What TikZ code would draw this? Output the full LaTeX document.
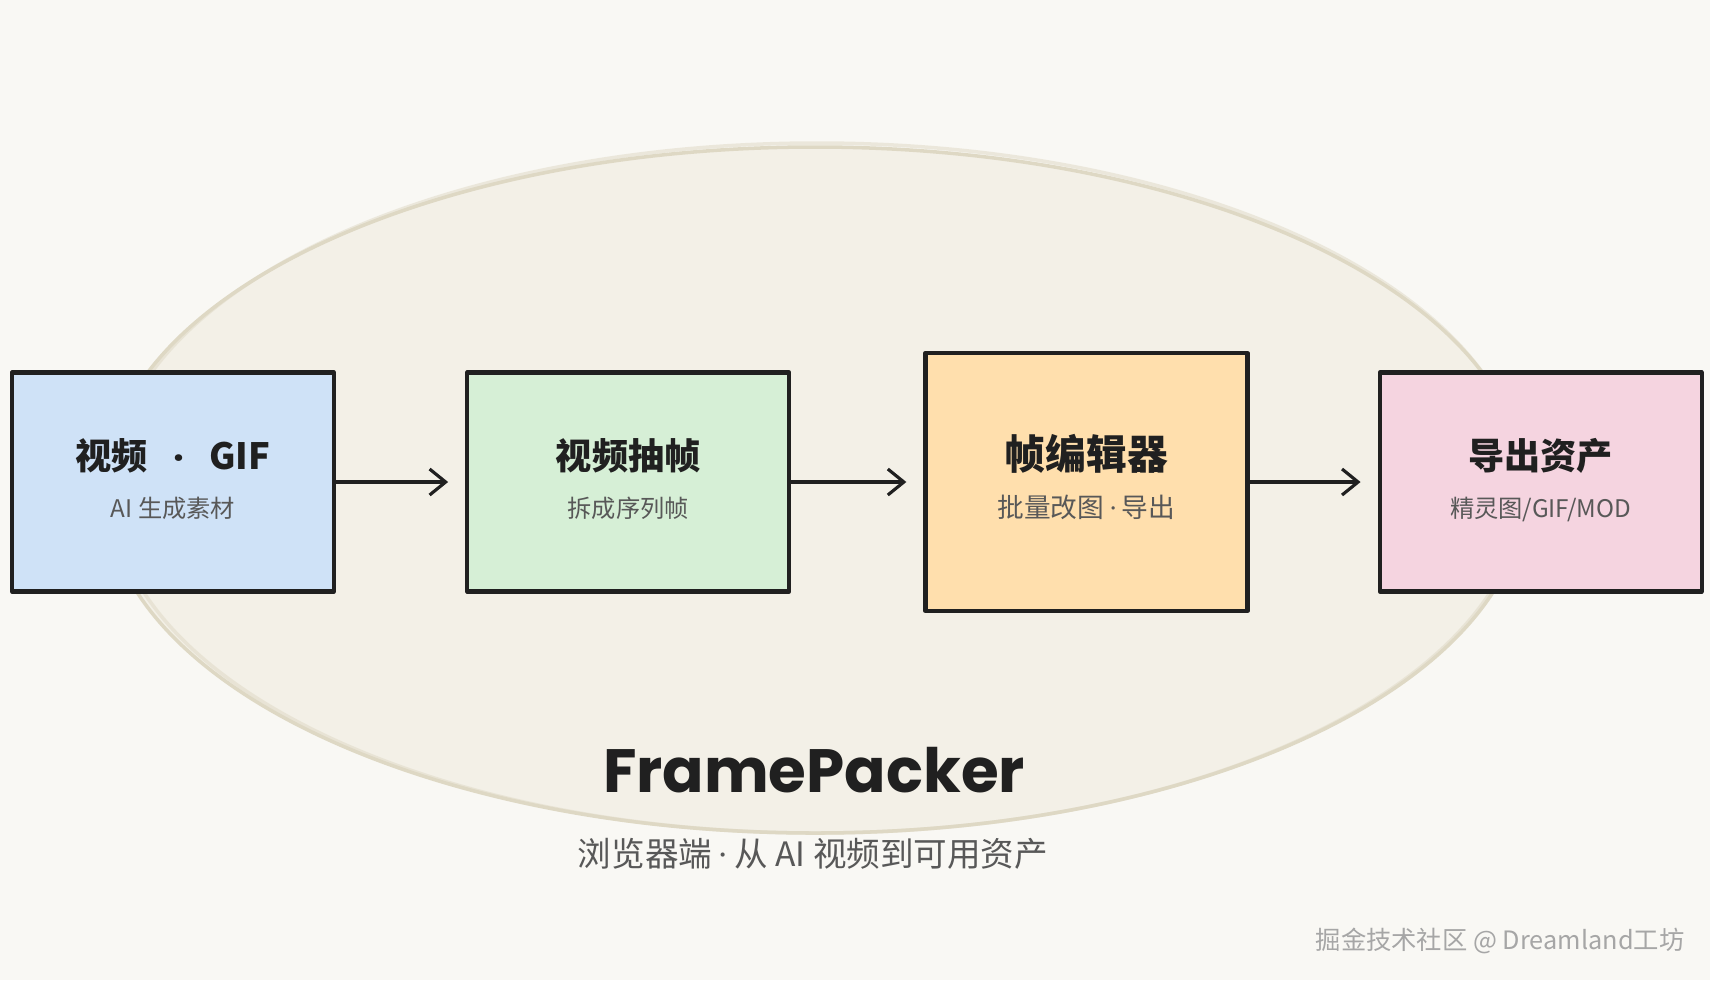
\documentclass[tikz,border=0pt]{standalone}
\usepackage{fontspec}
\setmainfont{Poppins}
\newfontfamily\cjk{Noto Sans CJK SC}
\usetikzlibrary{arrows.meta,positioning}
\definecolor{paper}{RGB}{249,248,244}
\definecolor{blobfill}{RGB}{243,240,231}
\definecolor{blobline}{RGB}{222,216,196}
\definecolor{inkdark}{RGB}{32,32,32}
\definecolor{inksoft}{RGB}{88,88,88}
\definecolor{srcfill}{RGB}{207,226,247}
\definecolor{cutfill}{RGB}{214,239,214}
\definecolor{editfill}{RGB}{255,223,173}
\definecolor{outfill}{RGB}{245,212,224}
\tikzset{
  stagebox/.style={draw=inkdark, line width=1.2pt, line join=round,
    minimum width=3.22cm, minimum height=2.19cm, inner sep=0pt,
    align=center, text=inkdark, font=\cjk\bfseries\fontsize{10.3}{12}\selectfont},
  flowln/.style={-{Straight Barb[length=1.6mm,width=2.6mm]}, line width=0.9pt,
    inkdark, shorten >=1.7mm},
  blobln/.style={blobline, line width=1pt},
}
\newcommand{\stagesub}[2][6.9]{{\mdseries\fontsize{#1}{8}\selectfont\color{inksoft}#2\rule[-2.4pt]{0pt}{0pt}}}
\newcommand{\mdot}{{\normalfont\mdseries ·}}

\begin{document}
\begin{tikzpicture}
    % paper
    \fill[paper] (0,0) rectangle (17.1,9.8);
    % backdrop blob
    \draw[blobln, fill=blobfill] (8.15,4.90) ellipse [x radius=7.10, y radius=3.43];
    \draw[blobln, opacity=0.5] (8.17,4.92) ellipse [x radius=7.06, y radius=3.45];
    % pipeline stages
    \node[stagebox, fill=srcfill] (src) at (1.73,4.98)
      {视频\hspace{0.7em}{\normalfont\bfseries ·}\hspace{0.7em}GIF\\[1.6pt]\stagesub{AI 生成素材}};
    \node[stagebox, fill=cutfill, right=1.29cm of src] (cut)
      {视频抽帧\\[1.6pt]\stagesub{拆成序列帧}};
    \node[stagebox, fill=editfill, minimum height=2.58cm, right=1.32cm of cut,
      font=\cjk\bfseries\fontsize{11.6}{12}\selectfont] (edit)
      {帧编辑器\\[1.8pt]\stagesub[7.6]{批量改图 \mdot{} 导出\rule[-3.4pt]{0pt}{0pt}}};
    \node[stagebox, fill=outfill, right=1.28cm of edit] (out)
      {导出资产\\[1.6pt]\stagesub{精灵图/GIF/MOD}};
    \foreach \a/\b in {src/cut, cut/edit, edit/out} { \draw[flowln] (\a) -- (\b); }
    % caption
    \node[text=inkdark, font=\bfseries\fontsize{17.4}{20}\selectfont] (title) at (8.14,2.10) {FramePacker};
    \node[text=inksoft, font=\cjk\fontsize{9.55}{11}\selectfont] (tagline) at (8.13,1.26)
      {浏览器端 \mdot{} 从 AI 视频到可用资产};
    \node[text=gray!70, font=\cjk\fontsize{7.2}{8}\selectfont] (credit) at (15.0,0.39)
      {掘金技术社区 @ Dreamland工坊};
\end{tikzpicture}
\end{document}
